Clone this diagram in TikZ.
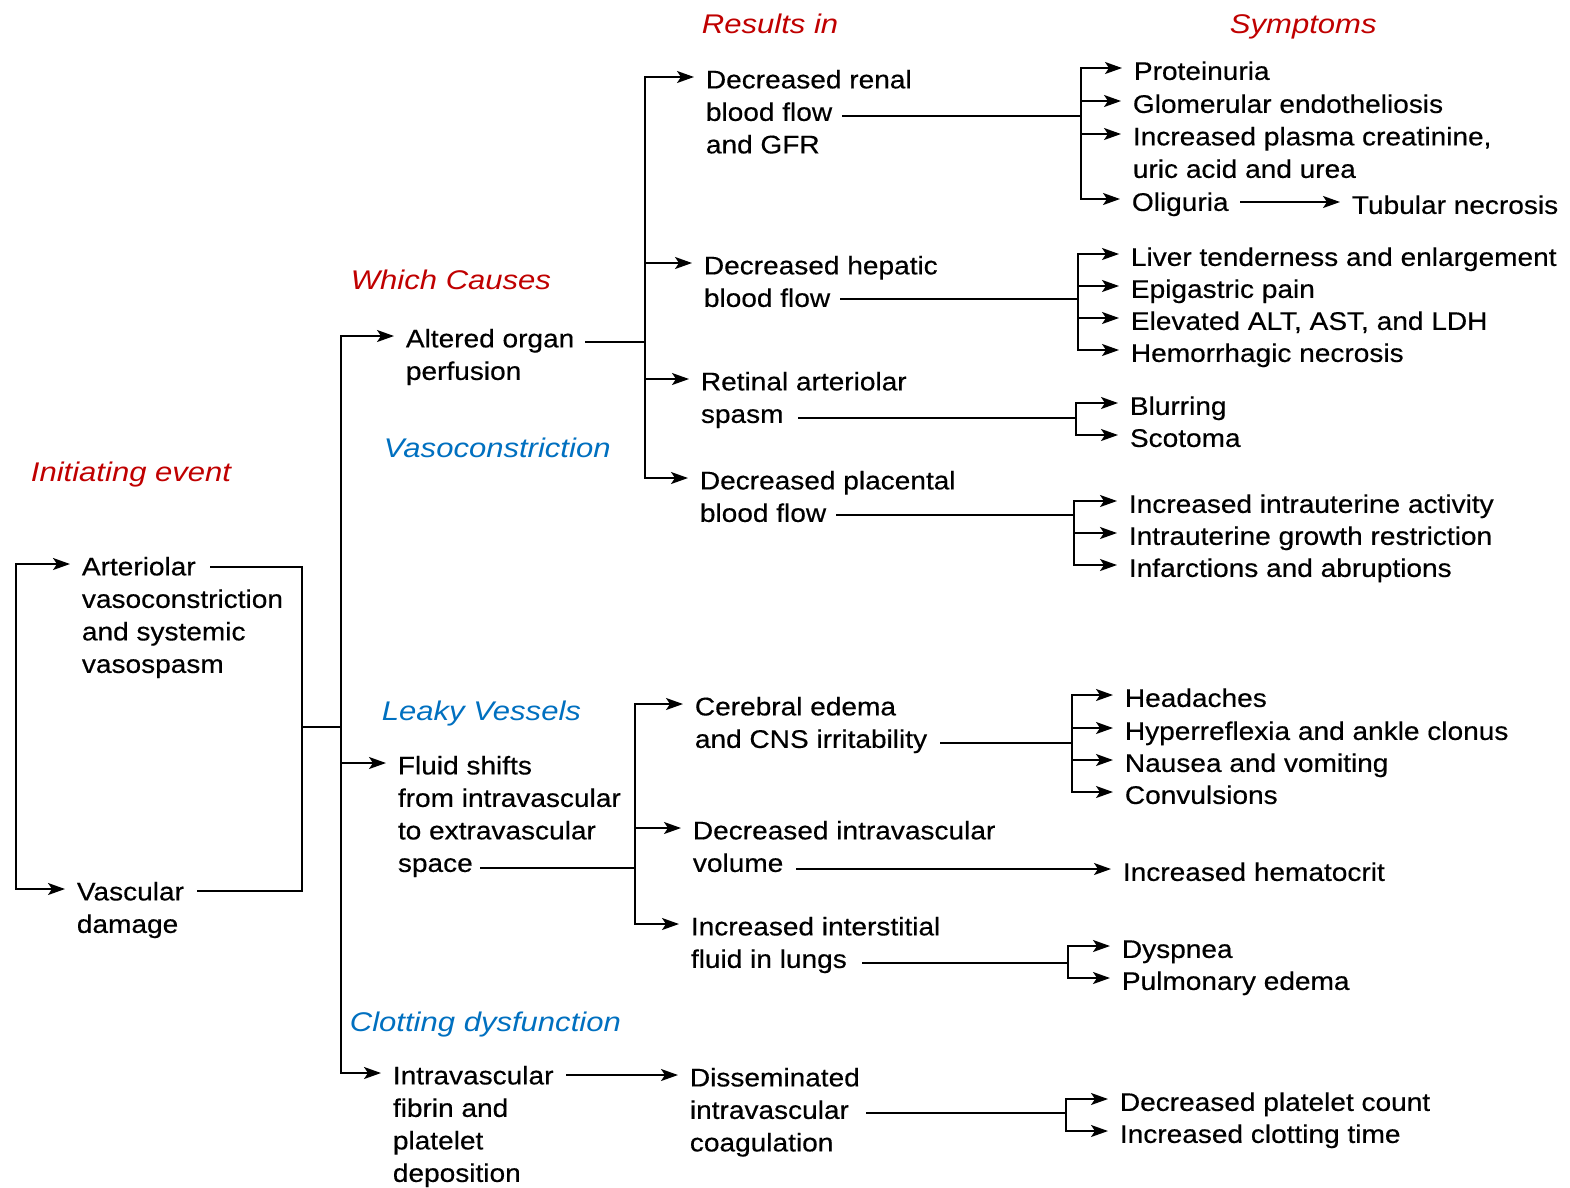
\documentclass[tikz,border=0pt]{standalone}
\usepackage{fontspec}
\setmainfont{Liberation Sans}
\newfontfamily\bodyf[FakeStretch=1.1,FakeBold=0.4]{Liberation Sans}
\newfontfamily\labf[FakeStretch=1.15]{Liberation Sans}
\usetikzlibrary{arrows.meta}
\definecolor{labred}{RGB}{192,0,0}
\definecolor{labblue}{RGB}{0,112,192}
\tikzset{
  txt/.style={anchor=north west, inner sep=0pt, align=left,
    font=\bodyf\fontsize{25.5}{32.5}\selectfont,
    execute at begin node={\rule{0pt}{19pt}},
    append after command={([xshift=-11pt,yshift=-8pt]\tikzlastnode.north west) coordinate (\tikzlastnode-in)}},
  lab/.style={anchor=base west, inner sep=0pt, font=\labf\itshape\fontsize{27}{32}\selectfont},
  arr/.style={-{Stealth[length=17pt,width=12pt,inset=4pt]}},
}
\begin{document}
\begin{tikzpicture}[x=1pt,y=-1pt,line width=1.8pt]
\fill[white] (0,0) rectangle (1570,1187);
\useasboundingbox (0,0) rectangle (1570,1187);

% labels
\node[lab,text=labred] (lres) at (701,33) {Results in};
\node[lab,text=labred] (lsym) at (1229,33) {Symptoms};
\node[lab,text=labred] (lwc) at (350,289) {Which Causes};
\node[lab,text=labred] (lie) at (30,481) {Initiating event};
\node[lab,text=labblue] (lvc) at (383,457) {Vasoconstriction};
\node[lab,text=labblue] (llv) at (381,720) {Leaky Vessels};
\node[lab,text=labblue] (lcd) at (349,1031) {Clotting dysfunction};

% initiating
\node[txt] (art) at (81,556) {Arteriolar\\vasoconstriction\\and systemic\\vasospasm};
\node[txt] (vas) at (76,881) {Vascular\\damage};
% causes
\node[txt] (alt) at (405,328) {Altered organ\\perfusion};
\node[txt] (flu) at (397,755) {Fluid shifts\\from intravascular\\to extravascular\\space};
\node[txt] (ivf) at (392,1065) {Intravascular\\fibrin and\\platelet\\deposition};
% results
\node[txt] (ren) at (705,69) {Decreased renal\\blood flow\\and GFR};
\node[txt] (hep) at (703,255) {Decreased hepatic\\blood flow};
\node[txt] (ret) at (700,371) {Retinal arteriolar\\spasm};
\node[txt] (pla) at (699,470) {Decreased placental\\blood flow};
\node[txt] (cer) at (694,696) {Cerebral edema\\and CNS irritability};
\node[txt] (div) at (692,820) {Decreased intravascular\\volume};
\node[txt] (iif) at (690,916) {Increased interstitial\\fluid in lungs};
\node[txt] (dic) at (689,1067) {Disseminated\\intravascular\\coagulation};
% symptoms
\node[txt] (s1) at (1133,60) {Proteinuria};
\node[txt] (s2) at (1132,93) {Glomerular endotheliosis};
\node[txt] (s3) at (1132,126) {Increased plasma creatinine,\\uric acid and urea};
\node[txt] (s4) at (1131,191) {Oliguria};
\node[txt] (s5) at (1351,194) {Tubular necrosis};
\node[txt] (h1) at (1130,246) {Liver tenderness and enlargement};
\node[txt] (h2) at (1130,278) {Epigastric pain};
\node[txt] (h3) at (1130,310) {Elevated ALT, AST, and LDH};
\node[txt] (h4) at (1130,342) {Hemorrhagic necrosis};
\node[txt] (r1) at (1129,395) {Blurring};
\node[txt] (r2) at (1129,427) {Scotoma};
\node[txt] (p1) at (1128,493) {Increased intrauterine activity};
\node[txt] (p2) at (1128,525) {Intrauterine growth restriction};
\node[txt] (p3) at (1128,557) {Infarctions and abruptions};
\node[txt] (c1) at (1124,687) {Headaches};
\node[txt] (c2) at (1124,720) {Hyperreflexia and ankle clonus};
\node[txt] (c3) at (1124,752) {Nausea and vomiting};
\node[txt] (c4) at (1124,784) {Convulsions};
\node[txt] (d1) at (1122,861) {Increased hematocrit};
\node[txt] (l1) at (1121,938) {Dyspnea};
\node[txt] (l2) at (1121,970) {Pulmonary edema};
\node[txt] (g1) at (1119,1091) {Decreased platelet count};
\node[txt] (g2) at (1119,1123) {Increased clotting time};

% connector points
\coordinate (artO) at (210,567);
\coordinate (vasO) at (197,891);
\coordinate (jL) at (302,727);
\coordinate (jT) at (341,727);
\coordinate (jLL) at (16,727);
\coordinate (altO) at (585,342);
\coordinate (jR) at (645,342);
\coordinate (renO) at (842,116);
\coordinate (jren) at (1081,116);
\coordinate (oligO) at (1240,202);
\coordinate (hepO) at (840,299);
\coordinate (jhep) at (1078,299);
\coordinate (retO) at (798,418);
\coordinate (jret) at (1076,418);
\coordinate (plaO) at (836,515);
\coordinate (jpla) at (1074,515);
\coordinate (fluO) at (480,868);
\coordinate (jF) at (635,868);
\coordinate (cerO) at (940,743);
\coordinate (jcer) at (1072,743);
\coordinate (divO) at (796,869);
\coordinate (iifO) at (862,963);
\coordinate (jiif) at (1068,963);
\coordinate (ivfO) at (566,1075);
\coordinate (dicO) at (866,1113);
\coordinate (jdic) at (1066,1113);

% initiating loop
\draw[arr] (jLL) |- (art-in);
\draw[arr] (jLL) |- (vas-in);
\draw (artO) -| (jL);
\draw (vasO) -| (jL);
\draw (jL) -- (jT);
\draw[arr] (jT) |- (alt-in);
\draw[arr] (jT) |- (flu-in);
\draw[arr] (jT) |- (ivf-in);

% organ perfusion
\draw (altO) -- (jR);
\draw[arr] (jR) |- (ren-in);
\draw[arr] (jR) |- (hep-in);
\draw[arr] (jR) |- (ret-in);
\draw[arr] (jR) |- (pla-in);

\draw (renO) -- (jren);
\foreach \n in {s1,s2,s3,s4} \draw[arr] (jren) |- (\n-in);
\draw[arr] (oligO) -- (s5-in);

\draw (hepO) -- (jhep);
\foreach \n in {h1,h2,h3,h4} \draw[arr] (jhep) |- (\n-in);

\draw (retO) -- (jret);
\foreach \n in {r1,r2} \draw[arr] (jret) |- (\n-in);

\draw (plaO) -- (jpla);
\foreach \n in {p1,p2,p3} \draw[arr] (jpla) |- (\n-in);

% fluid shifts
\draw (fluO) -- (jF);
\draw[arr] (jF) |- (cer-in);
\draw[arr] (jF) |- (div-in);
\draw[arr] (jF) |- (iif-in);

\draw (cerO) -- (jcer);
\foreach \n in {c1,c2,c3,c4} \draw[arr] (jcer) |- (\n-in);

\draw[arr] (divO) -- (d1-in);

\draw (iifO) -- (jiif);
\foreach \n in {l1,l2} \draw[arr] (jiif) |- (\n-in);

% clotting
\draw[arr] (ivfO) -- (dic-in);
\draw (dicO) -- (jdic);
\foreach \n in {g1,g2} \draw[arr] (jdic) |- (\n-in);
\end{tikzpicture}
\end{document}
